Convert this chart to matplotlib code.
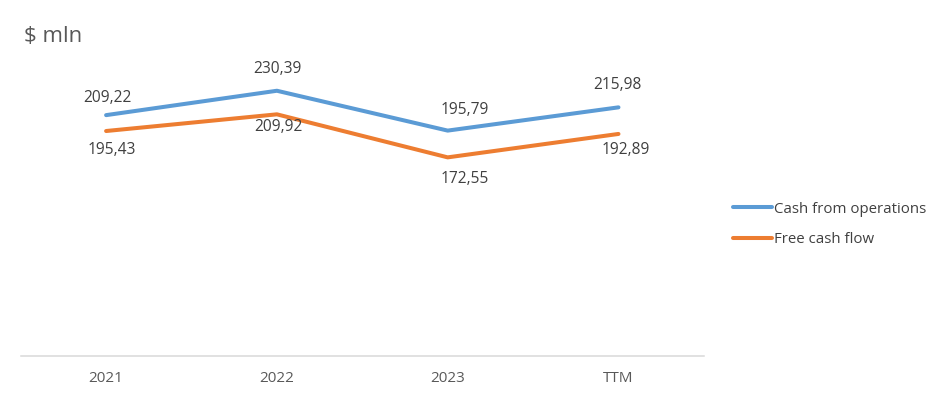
import matplotlib.pyplot as plt
import numpy as np

plt.rcParams['font.family'] = ['Open Sans', 'DejaVu Sans']

categories = ['2021', '2022', '2023', 'TTM']
cash_ops = [209.22, 230.39, 195.79, 215.98]
free_cf = [195.43, 209.92, 172.55, 192.89]

# label offsets in pixels (dx, dy), as placed in the original
ops_offsets = [(1, 17), (1, 22), (17, 21), (-1, 22)]
fcf_offsets = [(6, -19), (2, -13), (17, -22), (7, -16)]

blue = '#5B9BD5'
orange = '#ED7D31'
text_gray = '#404040'

fig = plt.figure(figsize=(9.41, 4.01), dpi=100)
ax = fig.add_axes([0.022, 0.112, 0.726, 0.718])

x = np.arange(len(categories))
ax.plot(x, cash_ops, color=blue, lw=2.9, label='Cash from operations', solid_capstyle='round')
ax.plot(x, free_cf, color=orange, lw=2.9, label='Free cash flow', solid_capstyle='round')

def fmt(v):
    return f'{v:.2f}'.replace('.', ',')

for xi, v, (dx, dy) in zip(x, cash_ops, ops_offsets):
    ax.annotate(fmt(v), (xi, v), xytext=(dx * 0.72, dy * 0.72), textcoords='offset points',
                ha='center', va='center', fontsize=11.2, color=text_gray)
for xi, v, (dx, dy) in zip(x, free_cf, fcf_offsets):
    ax.annotate(fmt(v), (xi, v), xytext=(dx * 0.72, dy * 0.72), textcoords='offset points',
                ha='center', va='center', fontsize=11.2, color=text_gray)

ax.set_xlim(-0.5, 3.5)
ax.set_ylim(0, 250)
ax.set_xticks(x)
ax.set_xticklabels(categories, fontsize=11, color='#595959')
ax.tick_params(axis='x', length=0, pad=11)
ax.set_yticks([])
for s in ['top', 'right', 'left']:
    ax.spines[s].set_visible(False)
ax.spines['bottom'].set_color('#D9D9D9')
ax.spines['bottom'].set_linewidth(1.1)

fig.text(0.025, 0.91, '$ mln', fontsize=16, color='#595959', va='center', ha='left')

fig.legend(loc='center left', bbox_to_anchor=(0.779, 0.44), frameon=False,
           fontsize=10.8, handlelength=2.6, handletextpad=0.1, labelspacing=1.05,
           labelcolor=text_gray, borderaxespad=0, borderpad=0)

fig.savefig('out.png', dpi=100)
